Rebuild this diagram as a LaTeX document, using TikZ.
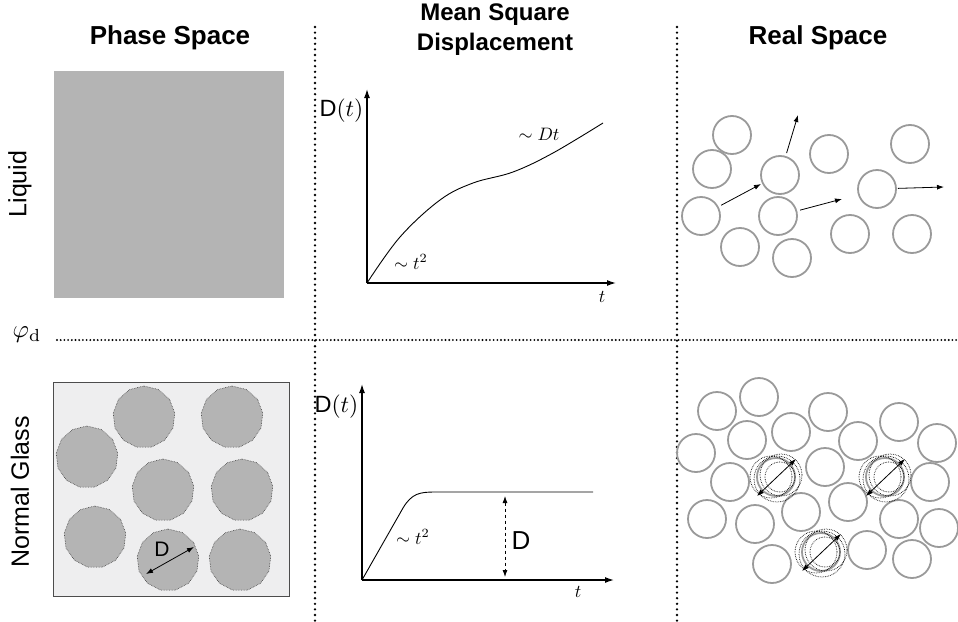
\documentclass[tikz,border=0pt]{standalone}
\usepackage{amsmath}
\usepackage{fontspec}
\setsansfont{Liberation Sans}
\usetikzlibrary{positioning, arrows.meta, calc, shapes.geometric}

\definecolor{ringgray}{HTML}{9A9A9A}
\definecolor{blobgray}{HTML}{B4B4B4}
\definecolor{boxgray}{HTML}{EEEEEF}

\tikzset{
  hdr/.style={font=\sffamily\bfseries\fontsize{26}{31}\selectfont, align=center},
  rowlbl/.style={font=\sffamily\fontsize{25}{28}\selectfont, rotate=90},
  sepv/.style={line width=2.6pt, line cap=round, dash pattern=on 0pt off 5.6pt},
  seph/.style={line width=2.1pt, line cap=round, dash pattern=on 0pt off 3.7pt},
  axis/.style={line width=1.3pt, -{Latex[length=9pt,width=6pt]}},
  curve/.style={line width=0.9pt},
  lbl/.style={scale=1.8},
  dtl/.style={font=\sffamily, scale=2.35, anchor=east, inner sep=0.5pt},
  blob/.style={regular polygon, regular polygon sides=13, minimum size=62pt,
    inner sep=0pt, fill=blobgray, draw=gray!45!black, densely dotted, line width=0.6pt},
  part/.style={circle, draw=ringgray, line width=1.8pt, minimum size=38pt, inner sep=0pt},
  mv/.style={line width=0.8pt, -{Latex[length=7pt,width=5pt]}, shorten <=3pt},
  jig/.style={densely dotted, line width=0.7pt},
  dia/.style={line width=0.8pt, {Latex[length=7pt,width=5pt]}-{Latex[length=7pt,width=5pt]}}
}

\begin{document}
\begin{tikzpicture}[x=1pt, y=-1pt]
  \useasboundingbox (0,0) rectangle (958,621);

  % --- headings and separators ---
  \node[hdr] (hps) at (170,38) {Phase Space};
  \node[hdr, font=\sffamily\bfseries\fontsize{24}{30}\selectfont] (hmsd) at (495,30) {Mean Square\\Displacement};
  \node[hdr] (hrs) at (818,38) {Real Space};
  \node[rowlbl] (rliq) at (20,184) {Liquid};
  \node[rowlbl] (rgl) at (20,492) {Normal Glass};
  \node[scale=2.5] (phid) at (27,335) {$\varphi_{\mathrm{d}}$};

  \draw[sepv] (315,27) -- (315,621);
  \draw[sepv] (677,27) -- (677,621);
  \draw[seph] (57,340) -- (958,340);

  % --- Phase Space, liquid ---
  \fill[blobgray] (54,71) rectangle (284,298);

  % --- Phase Space, glass ---
  \draw[draw=gray!60!black, fill=boxgray, line width=0.8pt] (53,382) rectangle (289,596);
  \foreach \n/\px/\py in {1/144/417, 2/232/417, 3/87/457, 4/163/490,
                          5/242/490, 6/95/537, 7/168/560, 8/240/560}
    \node[blob] (p\n) at (\px,\py) {};
  \coordinate (da) at (146,574);
  \coordinate (db) at (194,547);
  \draw[dia] (da) -- (db);
  \node[font=\sffamily\fontsize{21}{23}\selectfont] (dlab) at (162,549) {D};

  % --- MSD, liquid ---
  \coordinate (o1) at (367,283);
  \coordinate (y1) at (367,89);
  \coordinate (x1) at (616,283);
  \draw[axis] (o1) -- (y1);
  \draw[axis] (o1) -- (x1);
  \draw[curve] plot[smooth, tension=0.6] coordinates
    {(367,283) (400,237) (440,200) (473,183) (513,172) (553,153) (603,123)};
  \node[dtl] (dt1) at (365,111) {D$(t)$};
  \node[lbl] (dt1a) at (539,134) {$\sim Dt$};
  \node[lbl] (dt1b) at (411,262) {$\sim t^2$};
  \node[lbl] (t1) at (602,297) {$t$};

  % --- MSD, glass ---
  \coordinate (o2) at (362,580);
  \coordinate (y2) at (362,384);
  \coordinate (x2) at (614,580);
  \draw[axis] (o2) -- (y2);
  \draw[axis] (o2) -- (x2);
  \draw[curve] (o2) -- (403,508) .. controls (412,493) and (420,492) .. (436,492) -- (593,492);
  \node[dtl] (dt2) at (360,407) {D$(t)$};
  \node[lbl] (dt2b) at (413,537) {$\sim t^2$};
  \node[lbl] (t2) at (578,592) {$t$};
  \coordinate (pa) at (505,496);
  \coordinate (pb) at (505,577);
  \draw[dia, dashed] (pa) -- (pb);
  \node[font=\sffamily\fontsize{26}{28}\selectfont, anchor=west] (dpl) at (508,541) {D};

  % --- Real Space, liquid ---
  \foreach \n/\px/\py in {1/732/135, 2/712/169, 3/701/216, 4/740/247,
                          5/780/175, 6/778/216, 7/792/258, 8/829/154,
                          9/877/189, 10/910/144, 11/850/234, 12/912/234}
    \node[part] (a\n) at (\px,\py) {};
  \coordinate (m1) at (761,184);
  \coordinate (m2) at (798,115);
  \coordinate (m3) at (842,199);
  \coordinate (m4) at (944,187);
  \draw[mv] (a3) -- (m1);
  \draw[mv] (a5) -- (m2);
  \draw[mv] (a6) -- (m3);
  \draw[mv, shorten <=1pt] (a9) -- (m4);

  % --- Real Space, glass ---
  \foreach \n/\px/\py in {1/717/411, 2/759/397, 3/696/453, 4/747/440,
                          5/791/432, 6/828/412, 7/858/441, 8/899/422,
                          9/937/443, 10/730/482, 11/825/467, 12/930/482,
                          13/707/519, 14/755/524, 15/801/512, 16/848/502,
                          17/899/519, 18/939/528, 19/772/564, 20/867/550,
                          21/912/559}
    \node[part] (b\n) at (\px,\py) {};

  % caged particles
  \foreach \c/\px/\py in {1/776/477, 2/885/477, 3/821/552} {
    \node[part] (g\c) at (\px,\py) {};
    \draw[jig] (\px-5,\py) circle (21);
    \draw[jig] (\px+5,\py-2) circle (21);
    \draw[jig] (\px+1,\py+2) circle (23);
    \draw[jig] (\px+4,\py) circle (15);
    \coordinate (g\c a) at (\px-19,\py+19);
    \coordinate (g\c b) at (\px+20,\py-18);
    \draw[dia] (g\c a) -- (g\c b);
  }
\end{tikzpicture}
\end{document}
